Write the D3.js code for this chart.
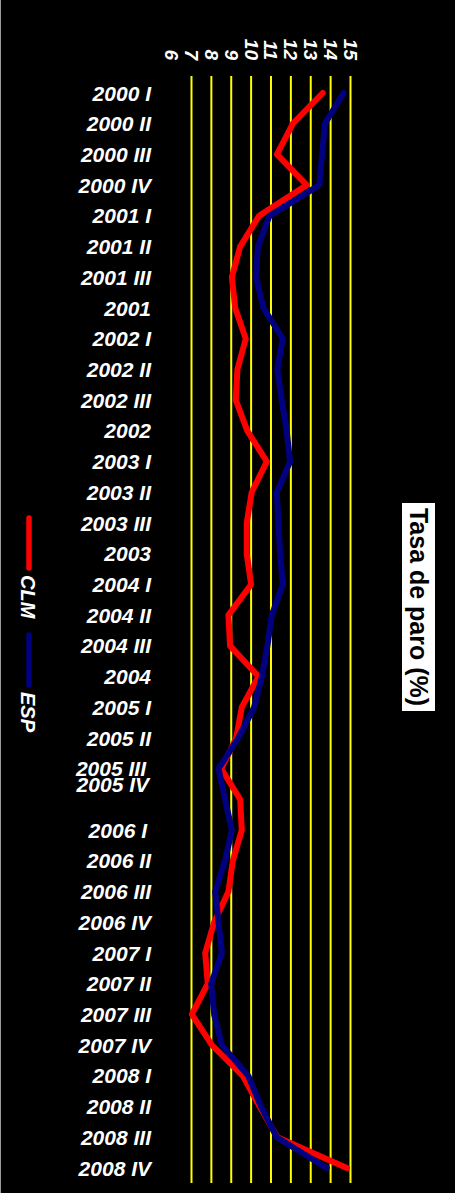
<!DOCTYPE html>
<html>
<head>
<meta charset="utf-8">
<script src="https://cdn.jsdelivr.net/npm/d3@7"></script>
<style>
  html, body { margin: 0; padding: 0; background: #000; }
  svg { display: block; }
  text { font-family: "Liberation Sans", Arial, sans-serif; }
</style>
</head>
<body>
<svg id="chart" width="455" height="1193"></svg>
<script>
const categories = [
  "2000 I", "2000 II", "2000 III", "2000 IV",
  "2001 I", "2001 II", "2001 III", "2001",
  "2002 I", "2002 II", "2002 III", "2002",
  "2003 I", "2003 II", "2003 III", "2003",
  "2004 I", "2004 II", "2004 III", "2004",
  "2005 I", "2005 II", "2005 III", "2005 IV",
  "2006 I", "2006 II", "2006 III", "2006 IV",
  "2007 I", "2007 II", "2007 III", "2007 IV",
  "2008 I", "2008 II", "2008 III", "2008 IV"
];
const clm = [13.6, 12.1, 11.3, 12.8, 10.4, 9.45, 9.03, 9.2, 9.73, 9.31, 9.23, 9.81,
  10.79, 10.03, 9.78, 9.78, 10.0, 8.86, 8.94, 10.37, 9.53, 9.25, 8.5, 9.45,
  9.53, 9.08, 8.86, 8.14, 7.69, 7.82, 7.02, 8.03, 9.58, 10.43, 11.32, 14.82];
const esp = [14.65, 13.71, 13.57, 13.43, 10.92, 10.34, 10.25, 10.62, 11.59, 11.32, 11.54, 11.79,
  11.96, 11.29, 11.37, 11.46, 11.59, 11.04, 10.82, 10.54, 10.15, 9.35, 8.36, 8.69,
  9.03, 8.69, 8.19, 8.36, 8.53, 7.99, 8.14, 8.53, 9.86, 10.5, 11.29, 13.8];
const tickLabels = [6, 7, 8, 9, 10, 11, 12, 13, 14, 15];
const gridValues = [7, 8, 9, 10, 11, 12, 13, 14, 15];
const seriesNames = ["CLM", "ESP"];
const seriesColors = ["#ff0000", "#000080"];
const title = "Tasa de paro (%)";

const svg = d3.select("#chart");
svg.append("rect").attr("width", 455).attr("height", 1193).attr("fill", "#000");
svg.append("line").attr("x1", 0.5).attr("x2", 0.5).attr("y1", 0).attr("y2", 1193)
  .attr("stroke", "#9a9a9a").attr("stroke-width", 1);

const x = d3.scaleLinear().domain([6, 15]).range([171.6, 350.5]);
const y = d3.scalePoint().domain(categories).range([93, 1168]).padding(0);

// gridlines
svg.append("g").selectAll("line").data(gridValues).join("line")
  .attr("x1", d => x(d)).attr("x2", d => x(d))
  .attr("y1", 76).attr("y2", 1183)
  .attr("stroke", "#ffff00").attr("stroke-width", 2);

// value tick labels (rotated)
svg.append("g").selectAll("text").data(tickLabels).join("text")
  .attr("transform", d => `translate(${x(d)},60) rotate(90)`)
  .attr("text-anchor", "end")
  .attr("dominant-baseline", "central")
  .attr("fill", "#fff")
  .attr("font-size", 19).attr("font-weight", "bold").attr("font-style", "italic")
  .text(d => d);

// category labels
const labelShift = { "2005 III": [-5, 0], "2005 IV": [-2, -15], "2006 I": [-4, 0] };
svg.append("g").selectAll("text").data(categories).join("text")
  .attr("x", d => 151 + (labelShift[d] ? labelShift[d][0] : 0))
  .attr("y", d => y(d) + (labelShift[d] ? labelShift[d][1] : 0))
  .attr("text-anchor", "end")
  .attr("dominant-baseline", "central")
  .attr("fill", "#fff")
  .attr("font-size", 21).attr("font-weight", "bold").attr("font-style", "italic")
  .text(d => d);

// lines
const line = d3.line().x(d => x(d.v)).y(d => y(d.c));
[clm, esp].forEach((vals, i) => {
  svg.append("path")
    .datum(vals.map((v, j) => ({ c: categories[j], v })))
    .attr("d", line)
    .attr("fill", "none")
    .attr("stroke", seriesColors[i])
    .attr("stroke-width", 6)
    .attr("stroke-linejoin", "round")
    .attr("stroke-linecap", "round");
});

// legend
const legY = [518, 635];
seriesNames.forEach((name, i) => {
  svg.append("line")
    .attr("x1", 29).attr("x2", 29)
    .attr("y1", legY[i]).attr("y2", legY[i] + 50)
    .attr("stroke", seriesColors[i]).attr("stroke-width", 5.5)
    .attr("stroke-linecap", "round");
  svg.append("text")
    .attr("transform", `translate(27.5,${legY[i] + 57}) rotate(90)`)
    .attr("text-anchor", "start")
    .attr("dominant-baseline", "central")
    .attr("fill", "#fff")
    .attr("font-size", 20).attr("font-weight", "bold").attr("font-style", "italic")
    .text(name);
});

// title box
svg.append("rect").attr("x", 402).attr("y", 503).attr("width", 33).attr("height", 208)
  .attr("fill", "#fff");
svg.append("text")
  .attr("transform", "translate(418.5,607) rotate(90)")
  .attr("text-anchor", "middle")
  .attr("dominant-baseline", "central")
  .attr("fill", "#000")
  .attr("font-size", 25).attr("font-weight", "bold")
  .text(title);
</script>
</body>
</html>
